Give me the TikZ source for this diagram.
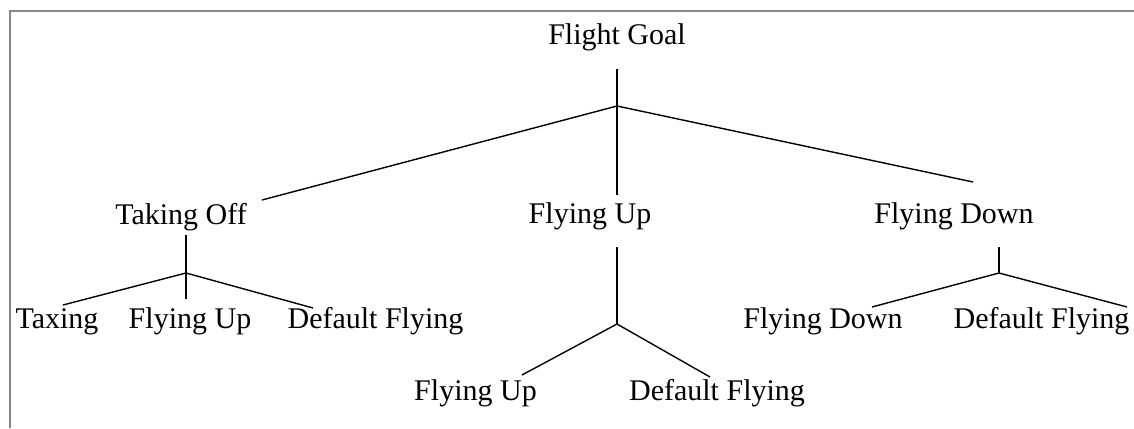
\documentclass[tikz,border=0pt]{standalone}
\usepackage{fontspec}
\setmainfont{Liberation Serif}
\begin{document}
\begin{tikzpicture}[x=1pt,y=-1pt,
  label/.style={inner sep=0pt,anchor=base,font=\fontsize{30}{36}\selectfont},
  branch/.style={line width=1.4pt,black},
  frameline/.style={line width=1.6pt,color=black!47}]
\useasboundingbox (0,0) rectangle (1134,428);
% frame edges
\draw[frameline] (10,428) -- (10,11) -- (1134,11);

% labels
\node[label] (goal)    at (617,45)    {Flight Goal};
\node[label] (takeoff) at (181,224)   {Taking Off};
\node[label] (flyup)   at (590,223)   {Flying Up};
\node[label] (flydown) at (954,223)   {Flying Down};
\node[label] (taxi)    at (57,328)    {Taxing};
\node[label] (tup)     at (190,328)   {Flying Up};
\node[label] (tdef)    at (375.5,328) {Default Flying};
\node[label] (uup)     at (475.5,400) {Flying Up};
\node[label] (udef)    at (717,400)   {Default Flying};
\node[label] (ddown)   at (823,328)   {Flying Down};
\node[label] (ddef)    at (1041.5,328){Default Flying};

% stems, junctions and branch ends
\coordinate (g0) at (617,69);   \coordinate (gj) at (617,106);  \coordinate (g1) at (617,195);
\coordinate (gl) at (262,200);  \coordinate (gr) at (973,182);
\coordinate (t0) at (186,235);  \coordinate (tj) at (186,273);  \coordinate (t1) at (186,299);
\coordinate (tl) at (63,305);   \coordinate (tr) at (313,308);
\coordinate (u0) at (617,247);  \coordinate (uj) at (617,324);
\coordinate (ul) at (522,375);  \coordinate (ur) at (710,377);
\coordinate (d0) at (999,247);  \coordinate (dj) at (999,273);
\coordinate (dl) at (872,307);  \coordinate (dr) at (1127,307);

% root
\draw[branch] (g0) -- (g1);
\draw[branch] (gl) -- (gj) -- (gr);
% Taking Off
\draw[branch] (t0) -- (t1);
\draw[branch] (tl) -- (tj) -- (tr);
% Flying Up
\draw[branch] (u0) -- (uj);
\draw[branch] (ul) -- (uj) -- (ur);
% Flying Down
\draw[branch] (d0) -- (dj);
\draw[branch] (dl) -- (dj) -- (dr);
\end{tikzpicture}
\end{document}
